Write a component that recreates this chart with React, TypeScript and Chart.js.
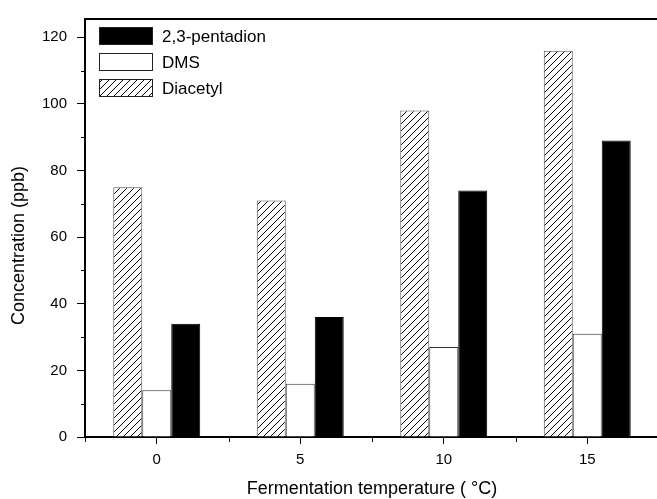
import React, { useEffect, useRef } from "react";
import { Chart, registerables } from "chart.js";

Chart.register(...registerables);

const categories = ["0", "5", "10", "15"];
const diacetyl = [75, 71, 98, 116];
const dms = [14, 16, 27, 31];
const pentadion = [34, 36, 74, 89];
const yMajorTicks = [0, 20, 40, 60, 80, 100, 120];
const yMinorTicks = [10, 30, 50, 70, 90, 110];
const seriesNames = ["Diacetyl", "DMS", "2,3-pentadion"];
const legendOrder = [2, 1, 0];

const FONT = "'Liberation Sans', Arial, Helvetica, sans-serif";

function makeHatch(): CanvasPattern | string {
  const s = 7;
  const c = document.createElement("canvas");
  c.width = s;
  c.height = s;
  const g = c.getContext("2d");
  if (!g) return "#fff";
  g.fillStyle = "#fff";
  g.fillRect(0, 0, s, s);
  g.strokeStyle = "#000";
  g.lineWidth = 1;
  g.beginPath();
  g.moveTo(-1, s + 1);
  g.lineTo(s + 1, -1);
  g.moveTo(-1, 1);
  g.lineTo(1, -1);
  g.moveTo(s - 1, s + 1);
  g.lineTo(s + 1, s - 1);
  g.stroke();
  const p = g.createPattern(c, "repeat");
  return p || "#fff";
}

export default function App() {
  const ref = useRef<HTMLCanvasElement>(null);

  useEffect(() => {
    if (!ref.current) return;
    const hatch = makeHatch();

    const minorTicks = {
      id: "minorTicks",
      afterDraw(chart: any) {
        const { ctx, chartArea, scales } = chart;
        const y = scales.y;
        const x = scales.x;
        ctx.save();
        ctx.strokeStyle = "#000";
        ctx.lineWidth = 1;
        ctx.beginPath();
        for (const v of yMinorTicks) {
          const py = Math.round(y.getPixelForValue(v)) + 0.5;
          ctx.moveTo(chartArea.left - 4, py);
          ctx.lineTo(chartArea.left, py);
        }
        const bounds: number[] = [chartArea.left];
        for (let i = 0; i < categories.length - 1; i++) {
          bounds.push((x.getPixelForValue(i) + x.getPixelForValue(i + 1)) / 2);
        }
        bounds.push(chartArea.right);
        for (const b of bounds) {
          const px = Math.round(b) + 0.5;
          ctx.moveTo(px, chartArea.bottom);
          ctx.lineTo(px, chartArea.bottom + 5);
        }
        ctx.stroke();
        ctx.restore();
      },
    };

    const customLegend = {
      id: "customLegend",
      afterDraw(chart: any) {
        const { ctx, chartArea } = chart;
        ctx.save();
        const boxX = chartArea.left + 14;
        const boxW = 54;
        const boxH = 18;
        const rowGap = 26;
        let rowY = chartArea.top + 8;
        ctx.font = `17px ${FONT}`;
        ctx.textBaseline = "middle";
        ctx.textAlign = "left";
        for (const idx of legendOrder) {
          const ds = chart.data.datasets[idx];
          ctx.fillStyle = ds.backgroundColor;
          ctx.fillRect(boxX, rowY, boxW, boxH);
          ctx.strokeStyle = "#222";
          ctx.lineWidth = 1;
          ctx.strokeRect(boxX + 0.5, rowY + 0.5, boxW - 1, boxH - 1);
          ctx.fillStyle = "#000";
          ctx.fillText(ds.label, boxX + boxW + 9, rowY + boxH / 2 + 1);
          rowY += rowGap;
        }
        ctx.restore();
      },
    };

    const chart = new Chart(ref.current, {
      type: "bar",
      data: {
        labels: categories,
        datasets: [
          {
            label: seriesNames[0],
            data: diacetyl,
            backgroundColor: hatch as any,
            borderColor: "#555",
            borderWidth: 1,
          },
          {
            label: seriesNames[1],
            data: dms,
            backgroundColor: "#fff",
            borderColor: "#333",
            borderWidth: 1,
          },
          {
            label: seriesNames[2],
            data: pentadion,
            backgroundColor: "#000",
            borderColor: "#000",
            borderWidth: 1,
          },
        ],
      },
      options: {
        responsive: false,
        animation: false,
        devicePixelRatio: 1,
        layout: { padding: { top: 12, right: 0, left: 0, bottom: 0 } },
        datasets: {
          bar: { barPercentage: 1, categoryPercentage: 0.606 },
        },
        plugins: {
          legend: { display: false },
          tooltip: { enabled: false },
        },
        scales: {
          x: {
            type: "category",
            position: "bottom",
            offset: true,
            afterFit(scale: any) {
              scale.height = 62;
            },
            grid: {
              offset: false,
              drawOnChartArea: false,
              drawTicks: true,
              tickLength: 7,
              color: "#000",
              lineWidth: 1,
            },
            border: { display: true, color: "#000", width: 2 },
            ticks: {
              color: "#000",
              font: { family: FONT, size: 15 },
              padding: 7,
              maxRotation: 0,
            },
            title: {
              display: true,
              text: "Fermentation temperature ( °C)",
              color: "#000",
              font: { family: FONT, size: 18, lineHeight: 1 },
              padding: { top: 0, bottom: 1 },
            },
          },
          x2: {
            type: "category",
            position: "top",
            labels: categories,
            offset: true,
            afterFit(scale: any) {
              scale.height = 0;
            },
            grid: { display: false, drawOnChartArea: false, drawTicks: false },
            border: { display: true, color: "#000", width: 2 },
            ticks: { display: false },
          },
          y: {
            type: "linear",
            position: "left",
            min: 0,
            max: 125.5,
            afterFit(scale: any) {
              scale.width = 85;
            },
            afterBuildTicks(scale: any) {
              scale.ticks = yMajorTicks.map((v) => ({ value: v }));
            },
            grid: {
              drawOnChartArea: false,
              drawTicks: true,
              tickLength: 8,
              color: "#000",
              lineWidth: 1,
            },
            border: { display: true, color: "#000", width: 2 },
            ticks: {
              color: "#000",
              font: { family: FONT, size: 15 },
              padding: 10,
            },
            title: {
              display: true,
              text: "Concentration (ppb)\u00a0\u00a0\u00a0\u00a0\u00a0\u00a0\u00a0",
              color: "#000",
              font: { family: FONT, size: 18, lineHeight: 1.2 },
              padding: { top: 8, bottom: 0 },
            },
          },
        },
      } as any,
      plugins: [minorTicks, customLegend],
    });

    return () => chart.destroy();
  }, []);

  return (
    <div
      style={{
        position: "absolute",
        left: 0,
        top: 0,
        width: 657,
        height: 499,
        overflow: "hidden",
        background: "#fff",
      }}
    >
      <canvas ref={ref} width={659} height={499} style={{ display: "block" }} />
    </div>
  );
}
